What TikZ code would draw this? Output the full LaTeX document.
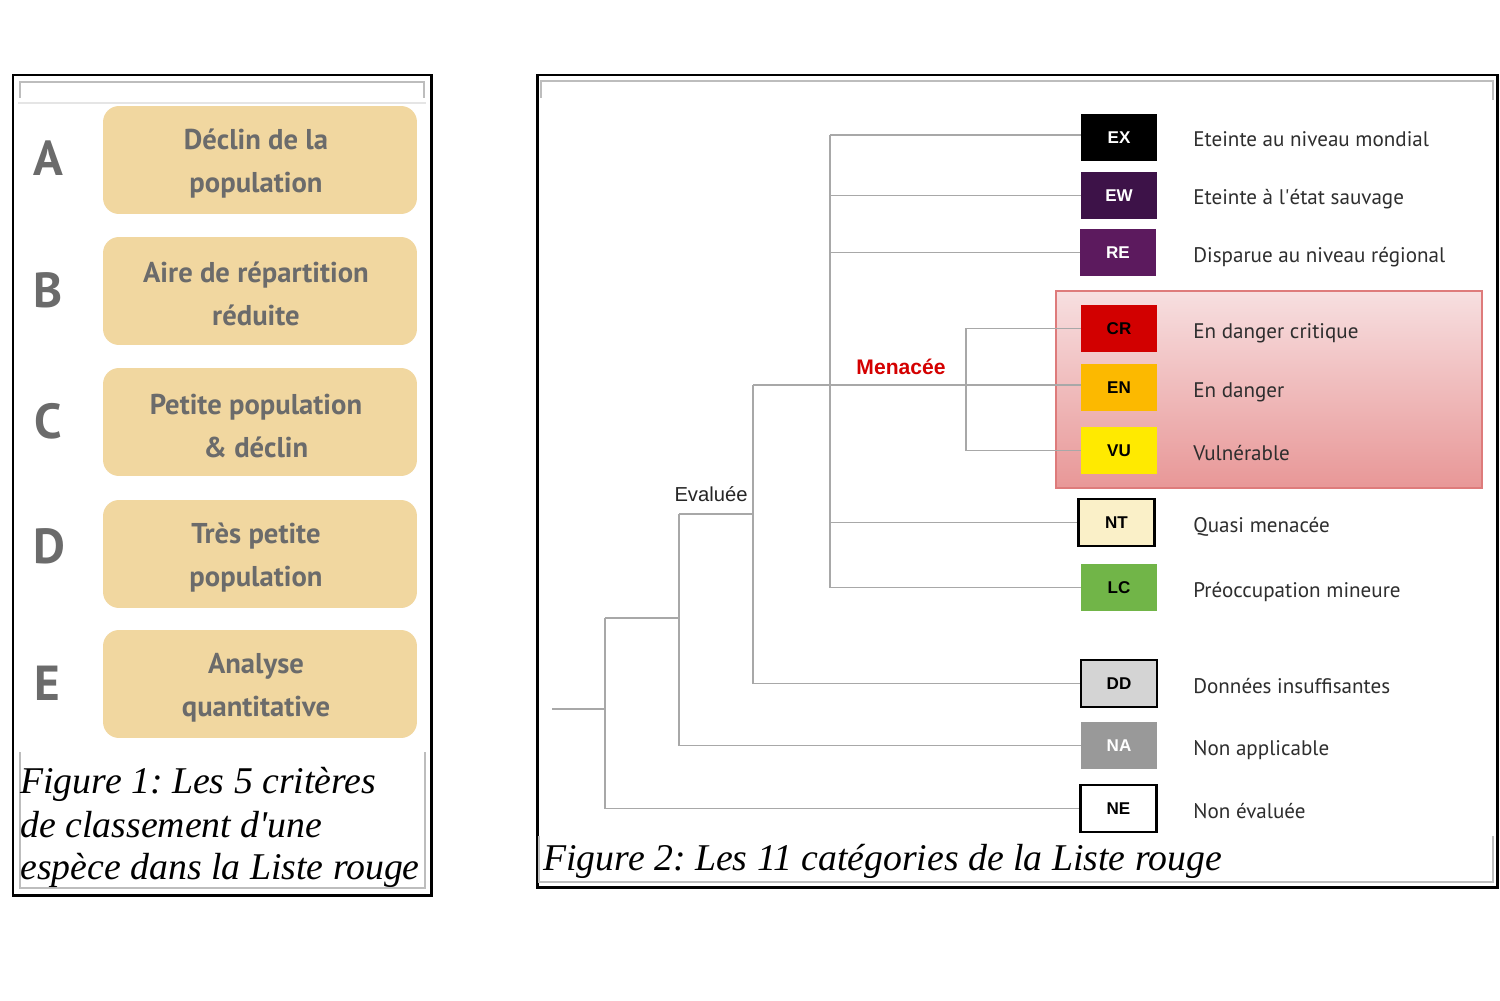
\documentclass[tikz,border=0pt]{standalone}
\usepackage{fontspec}
\setmainfont{Liberation Serif}
\newfontfamily\ptsans{PT Sans}
\newfontfamily\arialf{Liberation Sans}
\frenchspacing
\definecolor{critfill}{HTML}{F1D7A0}
\definecolor{critgrey}{HTML}{6B6B6B}
\definecolor{lettergrey}{HTML}{6B6B6B}
\definecolor{desctext}{HTML}{2E2E2E}
\definecolor{treegrey}{HTML}{A8A8A8}
\definecolor{framegrey}{HTML}{BDBDBD}
\definecolor{menred}{HTML}{D40000}
\definecolor{cEX}{HTML}{000000}
\definecolor{cEW}{HTML}{3D1248}
\definecolor{cRE}{HTML}{5C1A5E}
\definecolor{cCR}{HTML}{D20000}
\definecolor{cEN}{HTML}{FCB900}
\definecolor{cVU}{HTML}{FFEA00}
\definecolor{cNT}{HTML}{FAF0C8}
\definecolor{cLC}{HTML}{71B548}
\definecolor{cDD}{HTML}{D4D4D4}
\definecolor{cNA}{HTML}{999999}
\definecolor{pinktop}{HTML}{F7DFE0}
\definecolor{pinkbot}{HTML}{E89797}
\definecolor{pinkline}{HTML}{DE7B7B}
\begin{document}
\begin{tikzpicture}[x=0.02cm,y=-0.02cm,
  frame/.style={draw=black,line width=1.7pt},
  thinframe/.style={draw=framegrey,line width=0.6pt},
  crit/.style={fill=critfill,rounded corners=0.32cm,minimum width=6.28cm,minimum height=2.16cm,inner sep=0pt},
  crittext/.style={inner sep=0pt,align=center,text=critgrey,font=\ptsans\bfseries\fontsize{16.3}{24.5}\selectfont},
  letter/.style={anchor=base,text=lettergrey,font=\ptsans\bfseries\fontsize{28}{28}\selectfont},
  cat/.style={minimum width=1.52cm,minimum height=0.94cm,inner sep=0pt,font=\arialf\bfseries\fontsize{9.7}{10}\selectfont},
  catb/.style={cat,draw=black,line width=1.4pt},
  desc/.style={anchor=base west,inner sep=0pt,text=desctext,font=\ptsans\fontsize{12}{14}\selectfont},
  tree/.style={draw=treegrey,line width=1.1pt},
  captext/.style={anchor=base west,inner sep=0pt,font=\itshape\fontsize{21.5}{25}\selectfont},
  threatbox/.style={draw=pinkline,line width=0.9pt,top color=pinktop,bottom color=pinkbot,minimum width=8.52cm,minimum height=3.94cm,inner sep=0pt}
]
\useasboundingbox (0,0) rectangle (1500,1000);
\fill[white] (0,0) rectangle (1500,1000);

% ---------------- Figure 1 ----------------
\draw[frame] (13,75) rectangle (431,895);
\draw[thinframe] (20,98) -- (20,82) -- (424,82) -- (424,98);
\draw[draw=black!10,line width=0.6pt] (18,103) -- (426,103);
\draw[thinframe] (20,752) -- (20,888) -- (425,888) -- (425,752);

\node[crit] (ca) at (260,160) {};
\node[crit] (cb) at (260,291) {};
\node[crit] (cc) at (260,422) {};
\node[crit] (cd) at (260,554) {};
\node[crit] (ce) at (260,684) {};

\node[crittext] (ta) at (256,164) {Déclin de la\\population};
\node[crittext] (tb) at (256,294) {Aire de répartition\\réduite};
\node[crittext] (tc) at (256,426) {Petite population\\\& déclin};
\node[crittext] (td) at (256,558) {Très petite\\population};
\node[crittext] (te) at (256,688) {Analyse\\quantitative};

\node[letter] (la) at (48,176) {A};
\node[letter] (lb) at (48,307) {B};
\node[letter] (lc) at (48,438) {C};
\node[letter] (ld) at (49,563) {D};
\node[letter] (le) at (47,700) {E};

\node[captext] (f1a) at (20,793) {Figure 1: Les 5 critères};
\node[captext] (f1b) at (20,837) {de classement d\textquotesingle une};
\node[captext] (f1c) at (20,879) {espèce dans la Liste rouge};

% ---------------- Figure 2 ----------------
\draw[frame] (537,75) rectangle (1497,887);
\draw[thinframe] (541,98) -- (541,81) -- (1493,81) -- (1493,100);
\draw[thinframe] (539,836) -- (539,882) -- (1493,882) -- (1493,836);

\node[threatbox] (thr) at (1269,389.5) {};

\node[cat,fill=cEX,text=white] (ex) at (1119,137.5) {EX};
\node[cat,fill=cEW,text=white] (ew) at (1119,195.5) {EW};
\node[cat,fill=cRE,text=white] (re) at (1118,252.5) {RE};
\node[cat,fill=cCR,text=black] (cr) at (1119,328.5) {CR};
\node[cat,fill=cEN,text=black] (en) at (1119,387.5) {EN};
\node[cat,fill=cVU,text=black] (vu) at (1119,450.5) {VU};
\node[catb,fill=cNT,text=black] (nt) at (1116.5,522.5) {NT};
\node[cat,fill=cLC,text=black] (lcat) at (1119,587.5) {LC};
\node[catb,fill=cDD,text=black] (dd) at (1119,683.5) {DD};
\node[cat,fill=cNA,text=white] (na) at (1119,745.5) {NA};
\node[catb,fill=white,text=black] (ne) at (1118.5,808.5) {NE};

\node[desc] (tex) at (1193,147) {Eteinte au niveau mondial};
\node[desc] (tew) at (1193,205) {Eteinte à l\textquotesingle état sauvage};
\node[desc] (tre) at (1193,262) {Disparue au niveau régional};
\node[desc] (tcr) at (1193,338) {En danger critique};
\node[desc] (ten) at (1193,397) {En danger};
\node[desc] (tvu) at (1193,460) {Vulnérable};
\node[desc] (tnt) at (1193,532) {Quasi menacée};
\node[desc] (tlc) at (1193,597) {Préoccupation mineure};
\node[desc] (tdd) at (1193,693) {Données insuffisantes};
\node[desc] (tna) at (1193,755) {Non applicable};
\node[desc] (tne) at (1193,818) {Non évaluée};

% tree
\coordinate (root) at (552,709);
\coordinate (b1) at (605,618);
\coordinate (b2) at (679,514);
\coordinate (b3) at (753,385);
\coordinate (b4) at (830,135);
\coordinate (b5) at (966,328.5);

\draw[tree] (root) -- (root -| b1);
\draw[tree] (b1) -- (b1 |- ne.west) -- (ne.west);
\draw[tree] (b1) -- (b1 -| b2);
\draw[tree] (b2) -- (b2 |- na.west) -- (na.west);
\draw[tree] (b2) -- (b2 -| b3);
\draw[tree] (b3) -- (b3 |- dd.west) -- (dd.west);
\draw[tree] (b3) -- (b3 -| en.west);
\draw[tree] (b4) -- (b4 -| ex.west);
\draw[tree] (b4) -- (lcat.west -| b4) -- (lcat.west);
\draw[tree] (ew.west -| b4) -- (ew.west);
\draw[tree] (re.west -| b4) -- (re.west);
\draw[tree] (nt.west -| b4) -- (nt.west);
\draw[tree] (cr.west) -- (cr.west -| b5) -- (vu.west -| b5) -- (vu.west);

\node[anchor=base,inner sep=0pt,text=menred,font=\arialf\bfseries\fontsize{12}{14}\selectfont] (men) at (901,374) {Menacée};
\node[anchor=base,inner sep=0pt,text=black!85,font=\arialf\fontsize{11.5}{14}\selectfont] (eva) at (711,501) {Evaluée};

\node[captext] (f2) at (543,870) {Figure 2: Les 11 catégories de la Liste rouge};
\end{tikzpicture}
\end{document}
